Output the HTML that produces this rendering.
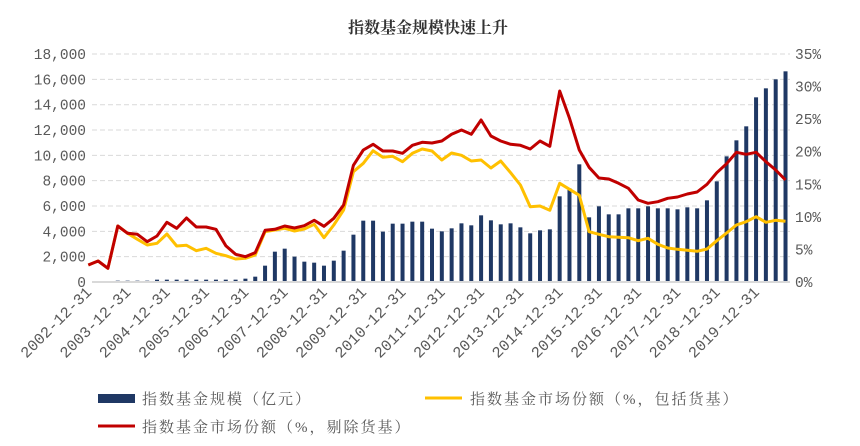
<!DOCTYPE html>
<html><head><meta charset="utf-8"><style>
body{margin:0;background:#fff;}
svg text{font-family:"Liberation Serif","Noto Serif CJK SC",serif;}
svg text.n{font-family:"Liberation Mono",monospace;}
</style></head><body>
<svg id="s" width="860" height="441" xmlns="http://www.w3.org/2000/svg">
<text x="428" y="33" text-anchor="middle" font-size="16" font-weight="bold" fill="#333">指数基金规模快速上升</text>
<g id="g"></g>
<rect x="98" y="394" width="37" height="9" fill="#1f3864"/>
<text x="142" y="404" font-size="15" fill="#595959" letter-spacing="2">指数基金规模（亿元）</text>
<line x1="425" y1="398" x2="462" y2="398" stroke="#ffc000" stroke-width="3"/>
<text x="470" y="404" font-size="15" fill="#595959" letter-spacing="2">指数基金市场份额（%，包括货基）</text>
<line x1="98" y1="426" x2="135" y2="426" stroke="#c00000" stroke-width="3"/>
<text x="142" y="432" font-size="15" fill="#595959" letter-spacing="2">指数基金市场份额（%，剔除货基）</text>
</svg>
<script>
var g=document.getElementById('g'),h='';
function X(i){return 88.3+9.82*i;}
for(var k=0;k<=9;k++){var y=282-k*25.33;
 if(k>0)h+='<line x1="92" x2="790" y1="'+y+'" y2="'+y+'" stroke="#d9d9d9" stroke-dasharray="5,3"/>';
 h+='<text class="n" x="86" y="'+(y+5)+'" text-anchor="end" font-size="14.5" fill="#595959">'+(k*2000).toLocaleString('en-US')+'</text>';}
for(var k=0;k<=7;k++){var y=282-k*32.57;
 h+='<text class="n" x="795" y="'+(y+5)+'" font-size="14.5" fill="#595959">'+(k*5)+'%</text>';}
var a1=[0,0,0,600,600,600,600,597,597,597,597,597,597,597,597,597,594,588,555,513,504,528,543,546,555,540,510,462,420,420,453,429,429,423,423,444];
var b1=a1.map(function(z,i){return i<3?282:80+z/3+(282-(80+604/3));});
var b2=[540,531,516,522,492,507,519,516,528,546,537,534,435,411,339,498,465,489,489,471,471,465,471,471,474,468,471,447,390,315,267,225,138,111,84,60].map(function(z){return 50+z/3+(282-(50+692/3));});
var bars=b1.concat(b2);
for(var i=0;i<bars.length;i++){var t=bars[i];if(282-t>0.5)h+='<rect x="'+(X(i)-2)+'" y="'+t+'" width="4" height="'+(282-t)+'" fill="#1f3864"/>';}
h+='<line x1="92" x2="790" y1="282" y2="282" stroke="#d9d9d9" stroke-width="2"/>';
var r1=[555,543,565,438,460,463,485,468,427,445,414,441,441,448,497,523,530,518,451,448,438,444,437,421,439,415,375,256,210,193,213,213,220,196,187,189];
var r2=[273,253,240,253,210,258,273,283,286,297,273,289,123,205,300,352,384,387,400,415,450,460,455,445,441,432,426,403,368,341,307,313,307,335,360,390];
var y1=[555,543,565,438,460,478,495,490,462,498,496,512,505,520,527,537,535,525,455,450,445,453,447,433,473,435,390,275,250,212,232,229,245,220,207,213];
var y2=[330,309,316,333,330,354,333,368,405,470,468,481,400,418,436,545,553,560,562,563,572,565,583,594,598,601,604,597,572,549,525,515,500,517,511,514];
function pts(a,b){var p=[];a.forEach(function(z,i){p.push(X(i).toFixed(1)+','+(80+z/3).toFixed(1));});
 b.forEach(function(z,j){p.push(X(a.length+j).toFixed(1)+','+(50+z/3).toFixed(1));});return p.join(' ');}
h+='<polyline fill="none" stroke="#ffc000" stroke-width="3" stroke-linejoin="round" points="'+pts(y1,y2)+'"/>';
h+='<polyline fill="none" stroke="#c00000" stroke-width="3" stroke-linejoin="round" points="'+pts(r1,r2)+'"/>';
for(var yr=2002;yr<=2019;yr++){var i=(yr-2002)*4,x=X(i);
 h+='<text class="n" transform="translate('+(x+4)+',293) rotate(-45)" text-anchor="end" font-size="15.5" fill="#595959">'+yr+'-12-31</text>';}
g.innerHTML=h;
</script>
</body></html>
